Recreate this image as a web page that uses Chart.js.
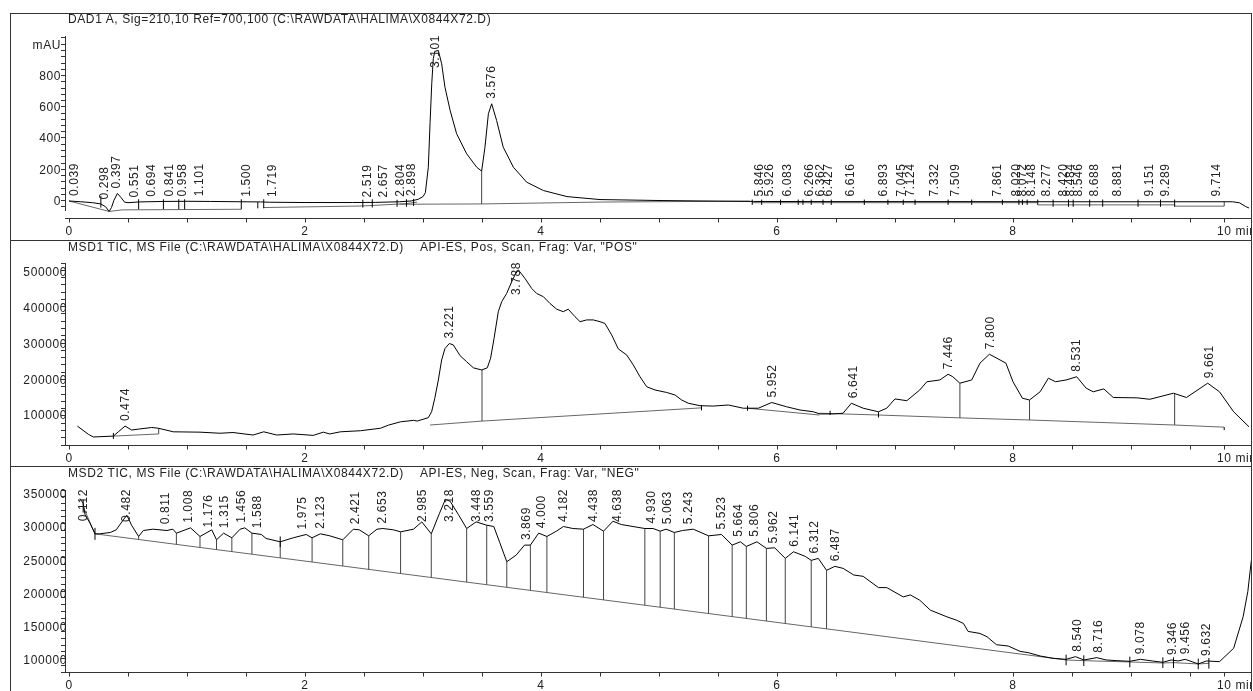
<!DOCTYPE html>
<html><head><meta charset="utf-8">
<script src="https://cdn.jsdelivr.net/npm/chart.js@4.4.1/dist/chart.umd.min.js"></script>
<style>
html,body{margin:0;padding:0;background:#fff;}
body{width:1253px;height:691px;position:relative;overflow:hidden;font-family:'Liberation Sans',Arial,sans-serif;}
canvas{position:absolute;left:0;z-index:1;}
.ttl{position:absolute;font-size:12px;letter-spacing:0.6px;color:#222;white-space:pre;line-height:14px;z-index:3;}
.frame{position:absolute;left:10px;top:13px;width:1240px;height:700px;border:1px solid #333;border-bottom:none;z-index:4;pointer-events:none;}
.sep{position:absolute;left:10px;width:1241px;height:1px;background:#333;z-index:4;}
</style></head><body>
<div class="frame"></div>
<div class="sep" style="top:240px"></div>
<div class="sep" style="top:466px"></div>
<div class="ttl" style="left:68px;top:12px">DAD1 A, Sig=210,10 Ref=700,100 (C:\RAWDATA\HALIMA\X0844X72.D)</div>
<div class="ttl" style="left:68px;top:240px">MSD1 TIC, MS File (C:\RAWDATA\HALIMA\X0844X72.D)</div>
<div class="ttl" style="left:420px;top:240px">API-ES, Pos, Scan, Frag: Var, "POS"</div>
<div class="ttl" style="left:68px;top:466px">MSD2 TIC, MS File (C:\RAWDATA\HALIMA\X0844X72.D)</div>
<div class="ttl" style="left:420px;top:466px">API-ES, Neg, Scan, Frag: Var, "NEG"</div>
<canvas id="c1" width="1253" height="226" style="top:14px"></canvas>
<canvas id="c2" width="1253" height="225" style="top:241px"></canvas>
<canvas id="c3" width="1253" height="224" style="top:467px"></canvas>
<script>
// ---------- shared time axis ----------
const xTickValues = [0,0.5,1,1.5,2,2.5,3,3.5,4,4.5,5,5.5,6,6.5,7,7.5,8,8.5,9,9.5];
const xLabelValues = [0,2,4,6,8];
const xLabelTexts = ['0','2','4','6','8'];
const xEndTick = 9.79;
const xEndLabel = '10 min';
const xMin = -0.034, xMax = 10.017;

// ---------- panel 1 : DAD1 A (mAU) ----------
const dadTrace = [[0,-3],[0.10,-8],[0.20,-14],[0.27,-22],[0.31,-40],[0.34,-70],[0.36,-45],[0.38,0],[0.41,45],[0.44,20],[0.47,-10],[0.50,-14],[0.60,-9],[0.80,-6],[1.00,-5],[1.20,-6],[1.45,-8],[1.62,-9],[1.70,-11],[2.00,-13],[2.40,-13],[2.60,-12],[2.80,-8],[2.90,-3],[2.96,8],[3.00,25],[3.02,50],[3.045,213],[3.06,500],[3.074,747],[3.087,907],[3.10,955],[3.13,960],[3.158,875],[3.186,725],[3.23,576],[3.285,427],[3.37,299],[3.455,213],[3.497,188],[3.525,341],[3.554,555],[3.582,619],[3.624,512],[3.68,341],[3.766,213],[3.879,117],[4.02,64],[4.22,25],[4.50,6],[5.00,0],[5.50,-4],[5.80,-6],[6.50,-7],[7.50,-7],[8.50,-8],[9.50,-8],[9.86,-8],[9.92,-15],[9.97,-38],[10.0,-48]];
const dadBaselines = [
  [[0,-3],[0.34,-70]],
  [[0.34,-70],[0.45,-60],[1.46,-56]],
  [[1.65,-45],[2.49,-35],[2.86,-20],[2.95,-10]],
  [[2.80,-24],[3.50,-22],[4.50,-10],[5.77,-4]],
  [[5.79,-14],[8.21,-14]],
  [[8.21,-28],[9.37,-28]],
  [[9.37,-36],[9.79,-36]]
];
const dadDrops = [[3.497,-22,188],[9.79,-36,-8]];
const dadMarks = [[0.27,-45,30],[0.59,-56,8],[0.80,-56,8],[0.93,-56,8],[0.98,-56,8],[1.46,-56,8],[1.60,-50,-10],[1.65,-50,8],[2.49,-45,5],[2.57,-45,8],[2.78,-40,5],[2.86,-40,8],[2.92,-35,10],[5.79,-28,6],[5.87,-28,6],[6.03,-28,6],[6.18,-28,6],[6.22,-28,6],[6.29,-28,6],[6.39,-28,6],[6.46,-28,6],[6.74,-28,6],[6.94,-28,6],[7.07,-28,6],[7.17,-28,6],[7.45,-28,6],[7.65,-28,6],[7.91,-28,6],[8.05,-28,6],[8.08,-28,6],[8.12,-28,6],[8.21,-28,6],[8.34,-40,6],[8.47,-40,6],[8.51,-40,6],[8.65,-40,6],[8.76,-40,6],[9.06,-40,6],[9.25,-40,6],[9.37,-40,6]];
const dadPeakRT = [0.039,0.298,0.397,0.551,0.694,0.841,0.958,1.101,1.500,1.719,2.519,2.657,2.804,2.898,3.101,3.576,5.846,5.926,6.083,6.266,6.362,6.427,6.616,6.893,7.045,7.124,7.332,7.509,7.861,8.020,8.072,8.148,8.277,8.420,8.484,8.546,8.688,8.881,9.151,9.289,9.714];
const dadPeakH = [-3,-25,45,-13,-8,-6,-6,-5,-8,-10,-13,-12,-8,-3,958,620,-6,-6,-6,-6,-6,-6,-6,-6,-6,-6,-6,-6,-6,-6,-6,-6,-6,-6,-6,-6,-6,-6,-6,-6,-6];
const dadYLabelValues = [0,200,400,600,800,1000];
const dadYLabelTexts = ['0','200','400','600','800','mAU'];

// ---------- panel 2 : MSD1 TIC positive ----------
const posTrace = [[0.071,69000],[0.164,46000],[0.206,38500],[0.376,41000],[0.418,53000],[0.475,69000],[0.531,58000],[0.60,61000],[0.70,65000],[0.757,63000],[0.884,53000],[1.11,52000],[1.28,49000],[1.39,51000],[1.56,44000],[1.65,53000],[1.76,44000],[1.90,47000],[2.07,43000],[2.155,52000],[2.21,47000],[2.30,53000],[2.47,56000],[2.64,63000],[2.71,72000],[2.81,81000],[2.92,85000],[2.95,83000],[3.045,92500],[3.073,109000],[3.10,147000],[3.13,198000],[3.158,254000],[3.186,286000],[3.223,300000],[3.257,296000],[3.314,266000],[3.37,249000],[3.427,232000],[3.497,226000],[3.545,232000],[3.573,259000],[3.602,314000],[3.638,389000],[3.667,417000],[3.709,440000],[3.752,473000],[3.78,492000],[3.808,506000],[3.864,482000],[3.921,454000],[3.963,440000],[4.020,431000],[4.076,412000],[4.133,396000],[4.189,389000],[4.231,396000],[4.288,375000],[4.331,361000],[4.387,366000],[4.443,366000],[4.500,361000],[4.542,356000],[4.599,324000],[4.655,285000],[4.726,268000],[4.782,240000],[4.839,207000],[4.896,179000],[4.966,170000],[5.065,163000],[5.136,156000],[5.192,142000],[5.248,133000],[5.347,126000],[5.460,125000],[5.588,128000],[5.714,119000],[5.842,119000],[5.955,135000],[6.082,123000],[6.195,114000],[6.308,109000],[6.364,103000],[6.477,103000],[6.56,105000],[6.63,133000],[6.73,119000],[6.86,109000],[6.93,119000],[7.00,145000],[7.10,140000],[7.21,170000],[7.27,193000],[7.38,198000],[7.45,214000],[7.49,207000],[7.55,189000],[7.65,198000],[7.72,245000],[7.80,270000],[7.89,254000],[7.94,245000],[8.00,193000],[8.08,147000],[8.14,142000],[8.23,165000],[8.30,203000],[8.36,193000],[8.45,198000],[8.54,207000],[8.62,175000],[8.68,165000],[8.77,173000],[8.85,149000],[9.05,148000],[9.16,144000],[9.36,161000],[9.47,149000],[9.65,189000],[9.75,165000],[9.87,109000],[10.0,67000]];
const posBaselines = [
  [[0.376,41000],[0.76,47000]],
  [[3.06,72000],[3.50,83000],[5.36,120000]],
  [[5.75,119000],[6.36,100000]],
  [[6.36,105000],[6.86,100000],[7.55,92000],[8.14,86000],[9.37,72000],[9.79,66000]]
];
const posDrops = [[0.76,47000,63000],[3.50,83000,226000],[7.55,92000,189000],[8.14,86000,142000],[9.37,72000,161000]];
const posMarks = [[0.376,33000,50000],[5.36,113000,128000],[5.75,112000,126000],[6.45,100000,112000],[6.86,93000,108000],[9.79,58000,66000]];
const posPeakRT = [0.474,3.221,3.788,5.952,6.641,7.446,7.800,8.531,9.661];
const posPeakH = [69000,300000,506000,135000,133000,214000,270000,207000,189000];
const posYLabelValues = [100000,200000,300000,400000,500000];
const posYLabelTexts = ['100000','200000','300000','400000','500000'];

// ---------- panel 3 : MSD2 TIC negative ----------
const negTrace = [[0.093,343000],[0.12,336000],[0.136,319000],[0.178,306000],[0.22,290000],[0.26,290000],[0.35,292000],[0.40,296000],[0.46,311000],[0.49,318000],[0.53,303000],[0.59,286000],[0.63,295000],[0.71,297000],[0.83,295000],[0.88,297000],[0.91,291000],[1.03,299000],[1.11,286000],[1.17,292000],[1.21,296000],[1.25,281000],[1.31,291000],[1.38,284000],[1.45,297000],[1.49,299000],[1.55,291000],[1.63,289000],[1.67,283000],[1.79,278000],[1.90,284000],[2.01,289000],[2.06,284000],[2.13,290000],[2.21,287000],[2.32,281000],[2.41,297000],[2.46,296000],[2.54,287000],[2.61,297000],[2.66,298000],[2.75,296000],[2.81,293000],[2.92,297000],[2.99,308000],[3.07,290000],[3.14,321000],[3.19,342000],[3.23,339000],[3.30,319000],[3.37,298000],[3.45,308000],[3.54,303000],[3.60,301000],[3.65,277000],[3.71,248000],[3.79,258000],[3.86,273000],[3.91,273000],[3.98,291000],[4.05,286000],[4.13,294000],[4.19,301000],[4.27,298000],[4.36,297000],[4.44,304000],[4.53,294000],[4.61,309000],[4.68,304000],[4.78,301000],[4.88,298000],[4.95,298000],[5.01,294000],[5.06,297000],[5.13,292000],[5.20,295000],[5.29,297000],[5.42,287000],[5.53,289000],[5.62,273000],[5.69,278000],[5.74,271000],[5.83,278000],[5.91,268000],[5.98,269000],[6.07,253000],[6.14,263000],[6.24,256000],[6.29,250000],[6.35,253000],[6.42,235000],[6.49,241000],[6.56,238000],[6.65,228000],[6.73,226000],[6.86,209000],[6.93,209000],[7.07,195000],[7.13,198000],[7.21,190000],[7.30,175000],[7.44,165000],[7.52,160000],[7.58,155000],[7.62,143000],[7.72,140000],[7.78,135000],[7.86,123000],[7.96,121000],[8.06,113000],[8.13,111000],[8.23,106000],[8.34,102500],[8.45,101000],[8.53,105000],[8.60,100000],[8.71,103500],[8.79,100000],[8.88,99000],[8.99,98000],[9.08,101000],[9.18,98500],[9.27,96500],[9.34,100000],[9.40,98500],[9.46,101000],[9.57,94000],[9.64,98500],[9.75,97500],[9.87,117600],[9.95,165000],[9.99,203000],[10.02,250000]];
const negBaselines = [
  [[0.12,331000],[0.22,290000]],
  [[0.22,290000],[8.45,100000]],
  [[8.45,100000],[8.60,99000],[8.99,97000],[9.27,95500],[9.36,96000],[9.57,94000],[9.66,95000]]
];
const negDrops = [[0.59,281500,286000],[0.91,274100,291000],[1.11,269500,286000],[1.25,266200,281000],[1.38,263200,284000],[1.55,259300,291000],[1.79,253800,278000],[2.06,247500,284000],[2.32,241500,281000],[2.54,236400,287000],[2.81,230200,293000],[3.07,224200,290000],[3.37,217300,298000],[3.54,213400,303000],[3.71,209400,248000],[3.91,204800,273000],[4.05,201600,286000],[4.36,194400,297000],[4.53,190500,294000],[4.88,182400,298000],[5.01,179400,294000],[5.13,176600,292000],[5.42,170000,287000],[5.62,165300,273000],[5.74,162600,271000],[5.91,158600,268000],[6.07,154900,253000],[6.29,149900,250000],[6.42,146900,235000]];
const negMarks = [[0.12,322000,342000],[0.22,281000,299000],[1.79,270000,286000],[8.45,92000,108000],[8.60,91000,107000],[8.99,89000,105000],[9.27,88000,104000],[9.36,88000,104000],[9.57,86000,102000],[9.66,87000,103000]];
const negPeakRT = [0.112,0.482,0.811,1.008,1.176,1.315,1.456,1.588,1.975,2.123,2.421,2.653,2.985,3.218,3.448,3.559,3.869,4.000,4.182,4.438,4.638,4.930,5.063,5.243,5.523,5.664,5.806,5.962,6.141,6.312,6.487,8.540,8.716,9.078,9.346,9.456,9.632];
const negPeakH = [343000,318000,297000,299000,292000,291000,299000,291000,289000,290000,297000,298000,308000,342000,308000,303000,273000,291000,301000,304000,309000,298000,297000,297000,289000,278000,278000,268000,263000,253000,241000,105000,103500,101000,100000,101000,98500];
const negYLabelValues = [100000,150000,200000,250000,300000,350000];
const negYLabelTexts = ['100000','150000','200000','250000','300000','350000'];

// ---------- builders ----------
const FONT = "'Liberation Sans', Arial, sans-serif";
function pts(arr){ return arr.map(([x,y])=>({x,y})); }
function segs(list){ const out=[]; list.forEach(s=>{ s.forEach(([x,y])=>out.push({x,y})); out.push({x:s[s.length-1][0],y:null}); }); return out; }
function verts(list){ const out=[]; list.forEach(([x,lo,hi])=>{ out.push({x,y:lo},{x,y:hi},{x,y:null}); }); return out; }

function decor(p){
  return {
    id:'decor'+p.id,
    afterDraw(chart){
      const ctx=chart.ctx, xs=chart.scales.x, ys=chart.scales.y, a=chart.chartArea;
      ctx.save();
      ctx.letterSpacing='0.6px';
      ctx.font='12px '+FONT;
      ctx.fillStyle='#222';
      // value-axis labels
      ctx.textAlign='right'; ctx.textBaseline='alphabetic';
      p.yLabelValues.forEach((v,i)=>{
        ctx.fillText(p.yLabelTexts[i], a.left+p.labelRight, ys.getPixelForValue(v)+4.3);
      });
      // rotated retention-time labels
      ctx.textAlign='left';
      p.peakRT.forEach((rt,i)=>{
        const txt=rt.toFixed(3);
        const w=ctx.measureText(txt).width;
        const px=xs.getPixelForValue(rt), py=ys.getPixelForValue(p.peakH[i]);
        const bottom=Math.max(py-5, a.top-1+w);
        ctx.save(); ctx.translate(px,bottom); ctx.rotate(-Math.PI/2); ctx.fillText(txt,0,4.3); ctx.restore();
      });
      // time axis
      const ay=Math.round(a.bottom+p.axisGap)+0.5;
      ctx.strokeStyle='#333'; ctx.lineWidth=1;
      ctx.beginPath(); ctx.moveTo(a.left,ay); ctx.lineTo(a.right,ay);
      xTickValues.concat([xEndTick]).forEach(v=>{ const x=Math.round(xs.getPixelForValue(v))+0.5; ctx.moveTo(x,ay); ctx.lineTo(x,ay+4); });
      ctx.stroke();
      ctx.textAlign='center';
      xLabelValues.forEach((v,i)=>ctx.fillText(xLabelTexts[i], xs.getPixelForValue(v), ay+16));
      const xe=xs.getPixelForValue(xEndTick);
      const w10=ctx.measureText('10').width;
      ctx.save(); ctx.beginPath(); ctx.rect(0,0,a.right,chart.height); ctx.clip();
      ctx.textAlign='left'; ctx.fillText(xEndLabel, xe-w10/2, ay+16); ctx.restore();
      ctx.restore();
    }
  };
}

function makePanel(p){
  const clip={left:0,right:0,top:8,bottom:8};
  new Chart(document.getElementById(p.id),{
    type:'line',
    data:{datasets:[
      {data:pts(p.trace),borderColor:'#000',borderWidth:1,pointRadius:0,tension:0,borderJoinStyle:'round',clip},
      {data:verts(p.marks),borderColor:'#000',borderWidth:1,pointRadius:0,spanGaps:false,clip},
      {data:verts(p.drops),borderColor:'#444',borderWidth:1,pointRadius:0,spanGaps:false,clip},
      {data:segs(p.baselines),borderColor:'#666',borderWidth:1,pointRadius:0,spanGaps:false,clip}
    ]},
    options:{
      responsive:false, animation:false, devicePixelRatio:1,
      layout:{padding:{left:0,right:2,top:p.padTop,bottom:p.padBottom}},
      plugins:{legend:{display:false},tooltip:{enabled:false},title:{display:false}},
      events:[],
      scales:{
        x:{type:'linear',min:xMin,max:xMax,display:false},
        y:{type:'linear',min:p.yMin,max:p.yMax,position:'left',
           afterFit(s){ s.width=65; },
           border:{display:true,color:'#333',width:1},
           grid:{drawOnChartArea:false,drawTicks:true,tickLength:4,color:'#333'},
           ticks:{stepSize:p.yStep,autoSkip:false,includeBounds:false,padding:0,color:'#222',
                  font:{family:FONT,size:12},
                  callback:()=>''}
        }
      }
    },
    plugins:[decor(p)]
  });
}

makePanel({id:'c1',trace:dadTrace,baselines:dadBaselines,drops:dadDrops,marks:dadMarks,peakRT:dadPeakRT,peakH:dadPeakH,
  yLabelValues:dadYLabelValues,yLabelTexts:dadYLabelTexts,yMin:-60.8,yMax:1052.8,yStep:40,labelRight:-4,padTop:22,padBottom:30,axisGap:8});
makePanel({id:'c2',trace:posTrace,baselines:posBaselines,drops:posDrops,marks:posMarks,peakRT:posPeakRT,peakH:posPeakH,
  yLabelValues:posYLabelValues,yLabelTexts:posYLabelTexts,yMin:16100,yMax:525200,yStep:20000,labelRight:2,padTop:22,padBottom:21,axisGap:0});
makePanel({id:'c3',trace:negTrace,baselines:negBaselines,drops:negDrops,marks:negMarks,peakRT:negPeakRT,peakH:negPeakH,
  yLabelValues:negYLabelValues,yLabelTexts:negYLabelTexts,yMin:81900,yMax:356000,yStep:10000,labelRight:2,padTop:23,padBottom:19,axisGap:0});
</script>
</body></html>
